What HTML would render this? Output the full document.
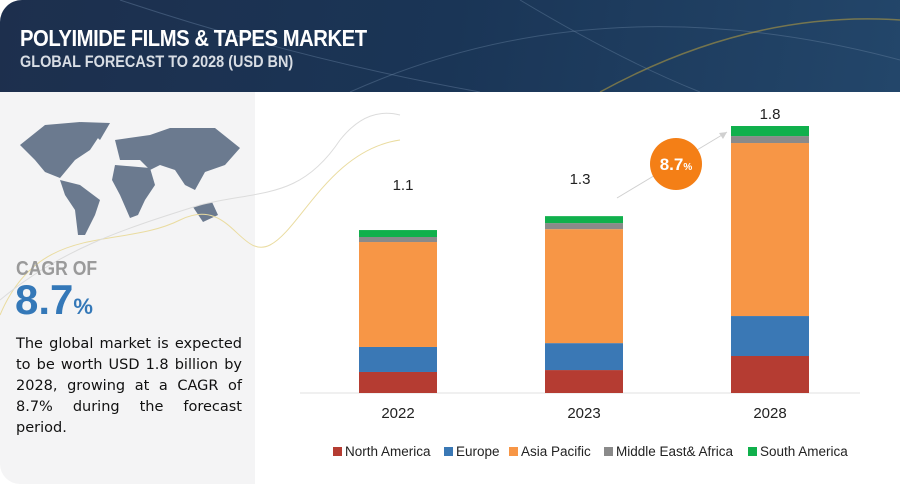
<!DOCTYPE html>
<html><head><meta charset="utf-8">
<style>
body{margin:0;width:900px;height:489px;overflow:hidden;background:#fff;font-family:"Liberation Sans",sans-serif;position:relative}
#header{position:absolute;left:0;top:0;width:900px;height:92px;background:linear-gradient(100deg,#1d2f4d 0%,#1a3556 50%,#23466a 100%);border-top-left-radius:22px;overflow:hidden}
#title{position:absolute;left:20px;top:25px;color:#fff;font-weight:bold;font-size:23px;letter-spacing:-0.5px;transform:scaleX(0.88);transform-origin:left}
#subtitle{position:absolute;left:20px;top:52px;color:#d8dde4;font-weight:bold;font-size:17px;transform:scaleX(0.85);transform-origin:left}
#left{position:absolute;left:0;top:92px;width:255px;height:392px;background:#f4f4f5;border-bottom-left-radius:20px}
#cagr-label{position:absolute;left:16px;top:258px;color:#9a9a9a;font-weight:bold;font-size:20px;transform:scaleX(0.88);transform-origin:left}
#cagr-value{position:absolute;left:15px;top:276px;color:#3478b8;font-weight:bold;font-size:42px}
#cagr-value span{font-size:22px}
#desc{position:absolute;left:16px;top:334px;width:226px;font-family:"DejaVu Sans",sans-serif;font-size:14.5px;line-height:21px;color:#111;text-align:justify}
</style></head><body>
<div id="header">
<svg width="900" height="92" style="position:absolute;left:0;top:0">
<path d="M120 0 Q300 60 480 92" stroke="#5d7898" stroke-width="1" fill="none" opacity="0.5"/>
<path d="M350 92 Q600 -20 900 60" stroke="#6c86a4" stroke-width="1" fill="none" opacity="0.4"/>
<path d="M600 92 Q750 10 900 20" stroke="#c9a93a" stroke-width="1.5" fill="none" opacity="0.5"/>
<path d="M520 0 Q620 60 700 92" stroke="#6c86a4" stroke-width="1" fill="none" opacity="0.4"/>
</svg>
<div id="title">POLYIMIDE FILMS &amp; TAPES MARKET</div>
<div id="subtitle">GLOBAL FORECAST TO 2028 (USD BN)</div>
</div>
<div id="left"></div>
<svg width="900" height="489" style="position:absolute;left:0;top:0">
<g fill="#6b7a8f">
<path d="M20 145 L45 125 L80 122 L100 135 L90 150 L75 160 L60 178 L45 172 L35 160 Z"/>
<path d="M80 122 L110 123 L100 140 Z"/>
<path d="M60 180 L80 185 L100 200 L95 215 L85 235 L78 235 L75 210 L65 195 Z"/>
<path d="M115 140 L150 135 L170 128 L215 128 L240 148 L225 165 L205 172 L195 190 L185 185 L175 170 L160 165 L150 170 L140 160 L120 160 Z"/>
<path d="M115 165 L150 168 L155 185 L145 200 L138 215 L130 218 L120 195 L112 180 Z"/>
<path d="M193 207 L212 202 L218 215 L203 222 Z"/>
</g>
<path d="M0 315 C40 220 120 250 180 220 C230 195 240 260 270 245 C300 230 330 150 400 140" stroke="#eadca0" stroke-width="1" fill="none"/>
<path d="M0 300 C60 250 120 230 200 205 C260 190 300 200 340 140 C360 115 380 110 400 115" stroke="#dcdcdc" stroke-width="1" fill="none"/>
<line x1="617" y1="198" x2="727" y2="132" stroke="#d0d0d0" stroke-width="1"/>
<path d="M727 132 L719 133 L723 139 Z" fill="#d0d0d0"/>
</svg>
<div id="cagr-label">CAGR OF</div>
<div id="cagr-value">8.7<span>%</span></div>
<div id="desc">The global market is expected to be worth USD 1.8 billion by 2028, growing at a CAGR of 8.7% during the forecast period.</div>
<svg id="chart" width="900" height="489" style="position:absolute;left:0;top:0"></svg>
<script>
const categories=["2022","2023","2028"];
const totals=["1.1","1.3","1.8"];
const seriesNames=["North America","Europe","Asia Pacific","Middle East& Africa","South America"];
const northAmerica=[0.142,0.155,0.25];
const europe=[0.169,0.182,0.27];
const asiaPacific=[0.709,0.770,1.169];
const middleEast=[0.034,0.041,0.047];
const southAmerica=[0.047,0.047,0.068];
const series=[northAmerica,europe,asiaPacific,middleEast,southAmerica];
const colors=["#b53c32","#3a78b5","#f79646","#8a8a8a","#10b04c"];
const NS="http://www.w3.org/2000/svg";
const svg=document.getElementById('chart');
const baseY=393, pxPerUnit=148, barW=78;
const xLeft=[359,545,731];
function y(v){return baseY-v*pxPerUnit;}
function mk(t,a){const e=document.createElementNS(NS,t);for(const k in a)e.setAttribute(k,a[k]);svg.appendChild(e);return e;}
const ax=mk('line',{x1:300,y1:baseY,x2:860,y2:baseY,stroke:'#e2e2e2','stroke-width':1});


categories.forEach((c,i)=>{
  let cum=0;
  series.forEach((s,j)=>{
    const r=mk('rect',{x:xLeft[i],y:y(cum+s[i]),width:barW,height:s[i]*pxPerUnit,fill:colors[j]});
    
    
    cum+=s[i];
  });
  const t=mk('text',{x:xLeft[i]+barW/2,y:418,'text-anchor':'middle','font-size':15,fill:'#222','font-family':'Liberation Sans'});
  t.textContent=c;
  
  
  const lab=mk('text',{x:[403,580,770][i],y:[190,184,119][i],'text-anchor':'middle','font-size':15,fill:'#222','font-family':'Liberation Sans'});
  lab.textContent=totals[i];
  
  
});
const circ=mk('circle',{cx:676,cy:164,r:26,fill:'#f47f16'});


const ct=mk('text',{x:676,y:170,'text-anchor':'middle','font-size':17,'font-weight':'bold',fill:'#fff','font-family':'Liberation Sans'});
ct.innerHTML='8.7<tspan font-size="10">%</tspan>';


const lx=[333,444,509,604,748];
seriesNames.forEach((n,j)=>{
  const r=mk('rect',{x:lx[j],y:447,width:9,height:9,fill:colors[j]});
  
  
  const t=mk('text',{x:lx[j]+12,y:456,'font-size':13.5,fill:'#222','font-family':'Liberation Sans'});
  t.textContent=n;
  
  
});
</script>
</body></html>
